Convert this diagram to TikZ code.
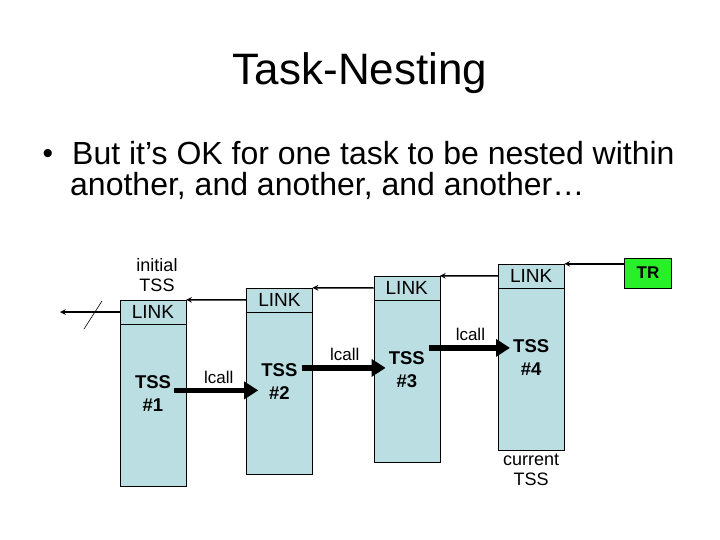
\documentclass[tikz,border=0pt]{standalone}
\usepackage{fontspec}
\setmainfont{Liberation Sans}
\usetikzlibrary{arrows, arrows.meta, positioning}
\definecolor{tssblue}{RGB}{186,222,226}
\definecolor{trgreen}{RGB}{40,240,40}
\tikzstyle{linkbox} = [rectangle, draw=black, fill=tssblue, minimum width=66pt, minimum height=24pt, inner sep=0pt, font=\fontsize{19}{21}\selectfont]
\tikzstyle{tssbox} = [rectangle, draw=black, fill=tssblue, minimum width=66pt, minimum height=162pt, inner sep=0pt]
\tikzstyle{tsslabel} = [align=center, inner sep=0pt, font=\bfseries\fontsize{18.5}{23}\selectfont]
\tikzstyle{note} = [align=center, inner sep=0pt, font=\fontsize{18}{20}\selectfont]
\tikzstyle{trbox} = [rectangle, draw=black, fill=trgreen, minimum width=47pt, minimum height=30pt, inner sep=0pt, font=\bfseries\fontsize{17}{19}\selectfont]
\tikzstyle{linkarrow} = [line width=1.5pt, ->, >=stealth]
\tikzstyle{callarrow} = [line width=5.5pt, -{Triangle[length=14pt,width=17pt]}, shorten >=-12pt]

\begin{document}
\begin{tikzpicture}[x=1pt, y=-1pt]
        \useasboundingbox (0,0) rectangle (720,540);
        % Title and bullet
        \node (title) [anchor=base, font=\fontsize{44}{50}\selectfont] at (360,85) {Task-Nesting};
        \node (dot) [anchor=base, font=\fontsize{30}{34}\selectfont] at (48,164) {•};
        \node (line1) [anchor=base west, inner sep=0pt, font=\fontsize{32}{38}\selectfont] at (72,165) {But it’s OK for one task to be nested within};
        \node (line2) [anchor=base west, inner sep=0pt, font=\fontsize{32}{38}\selectfont] at (70,196) {another, and another, and another…};

        % TSS boxes
        \node (link1) [linkbox] at (153,312) {LINK};
        \node (tss1) [tssbox, below=0pt of link1] {};
        \node (link2) [linkbox, right=60pt of link1, yshift=12pt] {LINK};
        \node (tss2) [tssbox, below=0pt of link2] {};
        \node (link3) [linkbox, right=61pt of link2, yshift=12pt] {LINK};
        \node (tss3) [tssbox, below=0pt of link3] {};
        \node (link4) [linkbox, right=58pt of link3, yshift=12pt] {LINK};
        \node (tss4) [tssbox, below=0pt of link4] {};
        \node (tr) [trbox] at (648,273) {TR};

        \node (lab1) [tsslabel, yshift=12pt] at (tss1) {TSS\\\#1};
        \node (lab2) [tsslabel, yshift=12pt] at (tss2) {TSS\\\#2};
        \node (lab3) [tsslabel, yshift=12pt] at (tss3) {TSS\\\#3};
        \node (lab4) [tsslabel, yshift=12pt] at (tss4) {TSS\\\#4};

        \node (initial) [note, above=8pt of link1, xshift=4pt] {initial\\TSS};
        \node (current) [note, below=3pt of tss4] {current\\TSS};

        % Link chain
        \coordinate (lost) at (60,312);
        \draw [linkarrow] (tr.west |- link4.north east) -- (link4.north east);
        \draw [linkarrow] (link4.west) -- (link3.north east);
        \draw [linkarrow] (link3.west) -- (link2.north east);
        \draw [linkarrow] (link2.west) -- (link1.north east);
        \draw [linkarrow] (link1.west) -- (lost);
        \draw [line width=0.6pt] (84,329) -- (102,301);

        % lcall arrows
        \coordinate (s1) at ([xshift=3pt, yshift=3pt]lab1.east);
        \coordinate (s2) at ([xshift=4pt, yshift=13.5pt]lab2.east);
        \coordinate (s3) at ([xshift=4pt, yshift=21.5pt]lab3.east);
        \draw [callarrow] (s1) -- (s1 -| tss2.west) node [pos=0.62, above=4pt, font=\fontsize{17}{19}\selectfont, inner sep=0pt] {lcall};
        \draw [callarrow] (s2) -- (s2 -| tss3.west) node [pos=0.6, above=4pt, font=\fontsize{17}{19}\selectfont, inner sep=0pt] {lcall};
        \draw [callarrow] (s3) -- (s3 -| tss4.west) node [pos=0.6, above=4pt, font=\fontsize{17}{19}\selectfont, inner sep=0pt] {lcall};
    \end{tikzpicture}
\end{document}
